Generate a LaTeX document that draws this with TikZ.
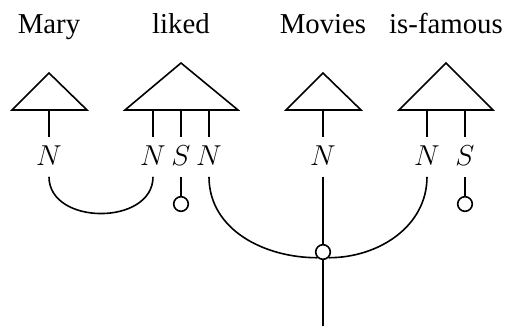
\documentclass[tikz,border=0pt]{standalone}
\usepackage{fontspec}
\setmainfont{Liberation Serif}
\begin{document}
\begin{tikzpicture}[x=0.5pt, y=-0.5pt, line width=0.8pt,
    word/.style={font=\Large, anchor=base, inner sep=0pt},
    type/.style={font=\Large, anchor=base, inner xsep=1pt,
      inner ysep=5pt, text height=9pt, text depth=0pt},
    port/.style={circle, draw, fill=white, inner sep=0pt, minimum size=7.3pt}]
    \useasboundingbox (0,0) rectangle (505,326);

    % words and their triangles
    \node[word] (w0) at (49,34) {Mary};
    \node[word] (w1) at (181,34) {liked};
    \node[word] (w2) at (323,34) {Movies};
    \node[word] (w3) at (446,34) {is-famous};
    \draw (49,73) -- (87,110) -- (12,110) -- cycle;
    \draw (181,63) -- (238,110) -- (125,110) -- cycle;
    \draw (323,73) -- (361,110) -- (286,110) -- cycle;
    \draw (446,63) -- (493,110) -- (399,110) -- cycle;

    % feet of the triangles
    \coordinate (f0) at (49,110);
    \coordinate (f1) at (153,110);
    \coordinate (f2) at (181,110);
    \coordinate (f3) at (209,110);
    \coordinate (f4) at (323,110);
    \coordinate (f5) at (427,110);
    \coordinate (f6) at (465,110);

    % types
    \begin{scope}[every node/.style={type}]
      \node (0) at (49,166) {$N$};
      \node (1) at (153,166) {$N$};
      \node (2) at (181,166) {$S$};
      \node (3) at (209,166) {$N$};
      \node (4) at (323,166) {$N$};
      \node (5) at (427,166) {$N$};
      \node (6) at (465,166) {$S$};
    \end{scope}
    \draw (f0) -- (0);
    \draw (f1) -- (1);
    \draw (f2) -- (2);
    \draw (f3) -- (3);
    \draw (f4) -- (4);
    \draw (f5) -- (5);
    \draw (f6) -- (6);

    % wires below
    \node[port] (p2) at (181,204) {};
    \node[port] (p6) at (465,204) {};
    \node[port] (j) at (323,252) {};
    \coordinate (out) at (323,326);
    \draw (2) -- (p2);
    \draw (6) -- (p6);
    \draw (0.south) .. controls +(0,49) and +(0,49) .. (1.south);
    \draw (3.south) to[out=-90, in=180] (j.south west);
    \draw (5.south) to[out=-90, in=0] (j.south east);
    \draw (4) -- (j);
    \draw (j) -- (out);
  \end{tikzpicture}
\end{document}
